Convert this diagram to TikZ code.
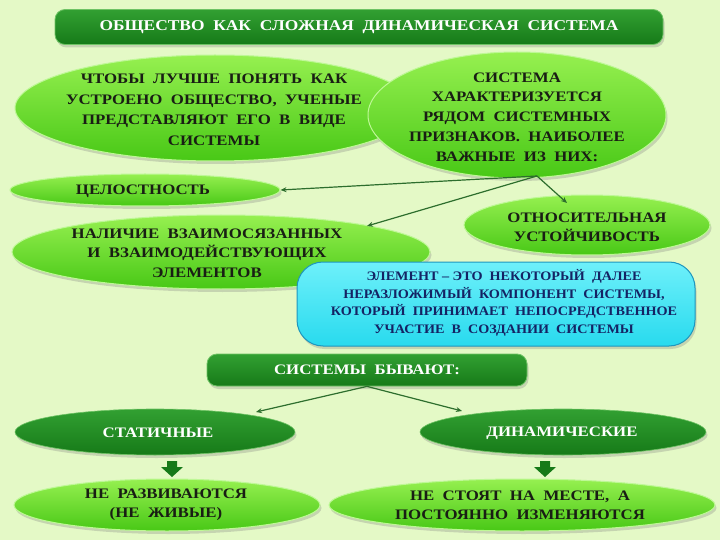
\documentclass[tikz,border=0pt]{standalone}
\usepackage{fontspec}
\setmainfont{Liberation Serif}
\newfontfamily\widefont[FakeStretch=1.16]{Liberation Serif}
\newfontfamily\midfont[FakeStretch=1.09]{Liberation Serif}
\usetikzlibrary{shapes.geometric,shadows,arrows.meta}
\definecolor{bgcol}{RGB}{228,249,198}
\definecolor{brighttop}{RGB}{150,240,80}
\definecolor{brightbot}{RGB}{72,200,22}
\definecolor{brightedge}{RGB}{190,248,150}
\definecolor{darktop}{RGB}{50,160,50}
\definecolor{darkbot}{RGB}{22,122,24}
\definecolor{darkedge}{RGB}{110,195,100}
\definecolor{cyantop}{RGB}{110,240,250}
\definecolor{cyanbot}{RGB}{40,218,238}
\definecolor{cyanedge}{RGB}{30,150,190}
\definecolor{txtdark}{RGB}{25,30,20}
\definecolor{txtblue}{RGB}{20,35,100}
\definecolor{linecol}{RGB}{45,110,45}
\newcommand\fsz[2]{\fontsize{#1}{#2}\selectfont}
\begin{document}
\begin{tikzpicture}[x=1pt,y=-1pt,
  shadowed/.style={drop shadow={opacity=0.3, shadow xshift=1.5pt, shadow yshift=-3pt}},
  bright/.style={ellipse, draw=brightedge, line width=1pt, top color=brighttop, bottom color=brightbot, shadowed, inner sep=0pt},
  darkell/.style={ellipse, draw=darkedge, line width=0.6pt, top color=darktop, bottom color=darkbot, shadowed, inner sep=0pt},
  darkbox/.style={rectangle, rounded corners=10pt, draw=darkedge, line width=0.8pt, top color=darktop, bottom color=darkbot, shadowed, inner sep=0pt},
  cyanbox/.style={rectangle, rounded corners=26pt, draw=cyanedge, line width=1pt, top color=cyantop, bottom color=cyanbot, shadowed, inner sep=0pt},
  btxt/.style={align=center, text=txtdark, font=\widefont\fsz{14.5}{20.5}\bfseries},
  wtxt/.style={align=center, text=white, font=\widefont\fsz{14.5}{20}\bfseries},
  conn/.style={draw=linecol, line width=1.2pt, -{Stealth[length=6pt,width=5pt]}},
  blockarrow/.style={fill=darkbot, draw=none}
]
\fill[bgcol] (0,0) rectangle (720,540);
\useasboundingbox (0,0) rectangle (720,540);

% title
\node[darkbox, minimum width=608pt, minimum height=35pt] (title) at (359,27) {};
\node[wtxt, font=\widefont\fsz{15}{18}\bfseries] at (title.center) {ОБЩЕСТВО\ \ КАК\ \ СЛОЖНАЯ\ \ ДИНАМИЧЕСКАЯ\ \ СИСТЕМА};

% left / right top ellipses
\node[bright, minimum width=400pt, minimum height=106pt] (left) at (215,108) {};
\node[btxt] at (214,110) {ЧТОБЫ\ \ ЛУЧШЕ\ \ ПОНЯТЬ\ \ КАК\\УСТРОЕНО\ \ ОБЩЕСТВО,\ \ УЧЕНЫЕ\\ПРЕДСТАВЛЯЮТ\ \ ЕГО\ \ В\ \ ВИДЕ\\СИСТЕМЫ};
\node[bright, minimum width=298pt, minimum height=126pt] (right) at (517,115) {};
\node[btxt, font=\widefont\fsz{14.5}{19.8}\bfseries] at (517,117) {СИСТЕМА\\ХАРАКТЕРИЗУЕТСЯ\\РЯДОМ\ \ СИСТЕМНЫХ\\ПРИЗНАКОВ.\ \ НАИБОЛЕЕ\\ВАЖНЫЕ\ \ ИЗ\ \ НИХ:};

% features
\node[bright, minimum width=270pt, minimum height=32pt] (whole) at (145,190) {};
\node[btxt] at (143,191) {ЦЕЛОСТНОСТЬ};
\node[bright, minimum width=246pt, minimum height=60pt] (stab) at (587,225) {};
\node[btxt, font=\widefont\fsz{14.5}{19}\bfseries] at (587,227) {ОТНОСИТЕЛЬНАЯ\\УСТОЙЧИВОСТЬ};
\node[bright, minimum width=418pt, minimum height=74pt] (elem) at (221,252) {};
\node[btxt, font=\widefont\fsz{14.5}{19.5}\bfseries] at (207,253) {НАЛИЧИЕ\ \ ВЗАИМОСЯЗАННЫХ\\И\ \ ВЗАИМОДЕЙСТВУЮЩИХ\\ЭЛЕМЕНТОВ};

% cyan definition
\node[cyanbox, minimum width=398pt, minimum height=84pt] (def) at (496,304) {};
\node[align=center, text=txtblue, font=\midfont\fsz{13}{17.5}\bfseries] at (504,303) {ЭЛЕМЕНТ\ –\ ЭТО\ \ НЕКОТОРЫЙ\ \ ДАЛЕЕ\\НЕРАЗЛОЖИМЫЙ\ \ КОМПОНЕНТ\ \ СИСТЕМЫ,\\КОТОРЫЙ\ \ ПРИНИМАЕТ\ \ НЕПОСРЕДСТВЕННОЕ\\УЧАСТИЕ\ \ В\ \ СОЗДАНИИ\ \ СИСТЕМЫ};

% connectors from the right ellipse
\coordinate (hub) at (537,176);
\draw[conn] (hub) -- (whole.east);
\draw[conn] (hub) -- (367,226);
\draw[conn] (hub) -- (567,203);

% types
\node[darkbox, minimum width=320pt, minimum height=32pt] (types) at (367,370) {};
\node[wtxt] at (types.center) {СИСТЕМЫ\ \ БЫВАЮТ:};
\node[darkell, minimum width=280pt, minimum height=46pt] (stat) at (155,432) {};
\node[wtxt] at (158,433) {СТАТИЧНЫЕ};
\node[darkell, minimum width=286pt, minimum height=46pt] (dyn) at (563,432) {};
\node[wtxt] at (562,433) {ДИНАМИЧЕСКИЕ};
\draw[conn] (types.south) -- (256,412);
\draw[conn] (types.south) -- (462,411);

% block arrows
\foreach \cx in {172,545}{
  \fill[blockarrow] (\cx-5,461) -- (\cx+5,461) -- (\cx+5,467) -- (\cx+11,467) -- (\cx,477) -- (\cx-11,467) -- (\cx-5,467) -- cycle;
}

% results
\node[bright, minimum width=306pt, minimum height=52pt] (nodev) at (167,505) {};
\node[btxt, font=\widefont\fsz{14.5}{19}\bfseries] at (166,505) {НЕ\ \ РАЗВИВАЮТСЯ\\(НЕ\ \ ЖИВЫЕ)};
\node[bright, minimum width=386pt, minimum height=52pt] (change) at (522,505) {};
\node[btxt, font=\widefont\fsz{14.5}{19}\bfseries] at (520,505) {НЕ\ \ СТОЯТ\ \ НА\ \ МЕСТЕ,\ \ А\\ПОСТОЯННО\ \ ИЗМЕНЯЮТСЯ};
\end{tikzpicture}
\end{document}
